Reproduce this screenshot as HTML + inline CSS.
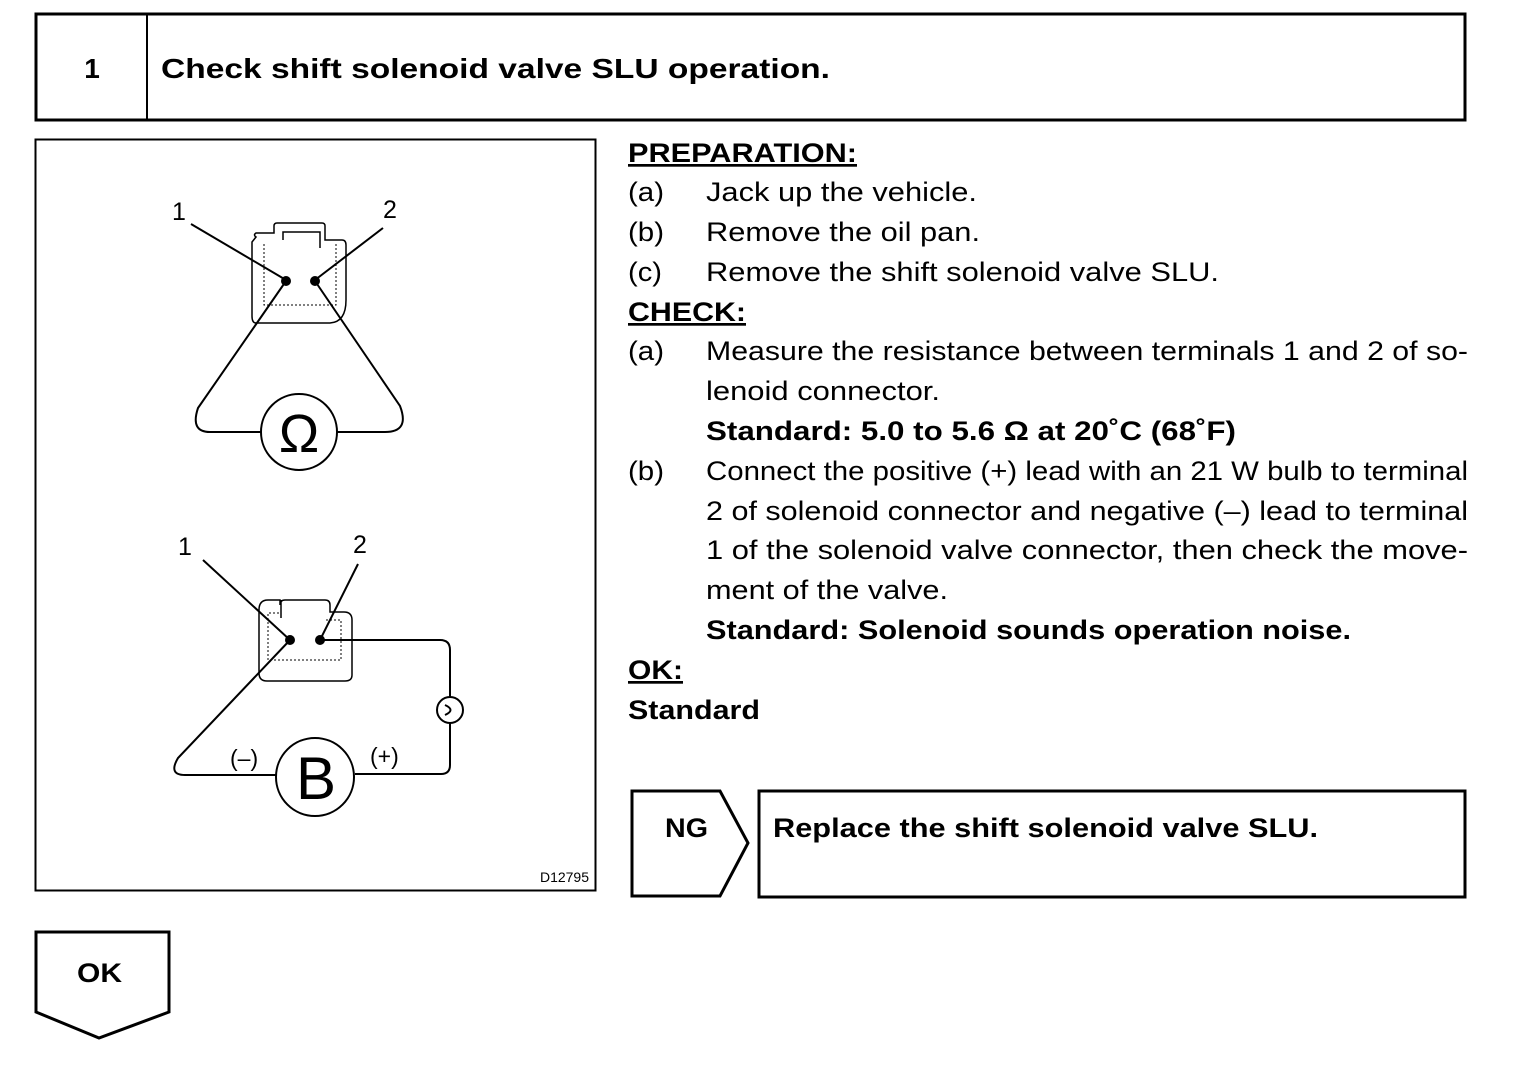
<!DOCTYPE html>
<html><head><meta charset="utf-8"><style>
html,body{margin:0;padding:0;background:#fff;}
svg{display:block;}
text{font-family:"Liberation Sans",Arial,sans-serif;fill:#000;}
.b{font-weight:bold;}
</style></head><body>
<svg width="1520" height="1068" viewBox="0 0 1520 1068" xmlns="http://www.w3.org/2000/svg">
<g fill="none" stroke="#000">
<rect x="36" y="14" width="1429" height="106" stroke-width="3"/>
<line x1="147" y1="14" x2="147" y2="120" stroke-width="2"/>
<rect x="35.5" y="139.5" width="560" height="751" stroke-width="2"/>
<path d="M632 791 H720 L748 843 L720 896 H632 Z" stroke-width="3"/>
<rect x="759" y="791" width="706" height="106" stroke-width="3"/>
<path d="M36 932 H169 V1012 L99 1038 L36 1012 Z" stroke-width="3"/>
</g>
<g lengthAdjust="spacingAndGlyphs">
<text x="92" y="78" font-size="28" class="b" text-anchor="middle">1</text>
<text x="161" y="78" font-size="28" class="b" textLength="669" lengthAdjust="spacingAndGlyphs">Check shift solenoid valve SLU operation.</text>
</g>
<g font-size="27">
<text x="628" y="162" class="b" text-decoration="underline" textLength="229" lengthAdjust="spacingAndGlyphs">PREPARATION:</text>
<text x="628" y="201" textLength="36" lengthAdjust="spacingAndGlyphs">(a)</text><text x="706" y="201" textLength="271" lengthAdjust="spacingAndGlyphs">Jack up the vehicle.</text>
<text x="628" y="241" textLength="36" lengthAdjust="spacingAndGlyphs">(b)</text><text x="706" y="241" textLength="274" lengthAdjust="spacingAndGlyphs">Remove the oil pan.</text>
<text x="628" y="281" textLength="34" lengthAdjust="spacingAndGlyphs">(c)</text><text x="706" y="281" textLength="513" lengthAdjust="spacingAndGlyphs">Remove the shift solenoid valve SLU.</text>
<text x="628" y="321" class="b" text-decoration="underline" textLength="118" lengthAdjust="spacingAndGlyphs">CHECK:</text>
<text x="628" y="360" textLength="36" lengthAdjust="spacingAndGlyphs">(a)</text><text x="706" y="360" textLength="762" lengthAdjust="spacingAndGlyphs">Measure the resistance between terminals 1 and 2 of so-</text>
<text x="706" y="400" textLength="234" lengthAdjust="spacingAndGlyphs">lenoid connector.</text>
<text x="706" y="440" class="b" textLength="530" lengthAdjust="spacingAndGlyphs">Standard: 5.0 to 5.6 Ω at 20˚C (68˚F)</text>
<text x="628" y="480" textLength="36" lengthAdjust="spacingAndGlyphs">(b)</text><text x="706" y="480" textLength="762" lengthAdjust="spacingAndGlyphs">Connect the positive (+) lead with an 21 W bulb to terminal</text>
<text x="706" y="520" textLength="762" lengthAdjust="spacingAndGlyphs">2 of solenoid connector and negative (–) lead to terminal</text>
<text x="706" y="559" textLength="762" lengthAdjust="spacingAndGlyphs">1 of the solenoid valve connector, then check the move-</text>
<text x="706" y="599" textLength="242" lengthAdjust="spacingAndGlyphs">ment of the valve.</text>
<text x="706" y="639" class="b" textLength="645" lengthAdjust="spacingAndGlyphs">Standard: Solenoid sounds operation noise.</text>
<text x="628" y="679" class="b" text-decoration="underline" textLength="55" lengthAdjust="spacingAndGlyphs">OK:</text>
<text x="628" y="719" class="b" textLength="132" lengthAdjust="spacingAndGlyphs">Standard</text>
<text x="665" y="837" class="b" textLength="43" lengthAdjust="spacingAndGlyphs">NG</text>
<text x="773" y="837" class="b" textLength="545" lengthAdjust="spacingAndGlyphs">Replace the shift solenoid valve SLU.</text>
<text x="77" y="982" class="b" textLength="45" lengthAdjust="spacingAndGlyphs">OK</text>
</g>

<!-- diagram 1 -->
<g fill="none" stroke="#000" stroke-width="2">
<path d="M256 237 Q253 235 256 233 H274 V226 Q274 223 277 223 H322 Q325 223 325 226 V240 H342 Q346 240 346 245 V300 Q346 322 330 323 H256 Q252 323 252 316 V242 Z" stroke-width="1.5"/>
<path d="M283 240 V232 H320 V248" stroke-width="1.5"/>
<path d="M264 244 V305 H336 V244" stroke-width="1" stroke-dasharray="2 2"/>
<line x1="191" y1="224" x2="286" y2="280"/>
<line x1="383" y1="228" x2="315" y2="280"/>
<path d="M286 281 L198 408 Q190 432 210 432 H261"/>
<path d="M315 281 L400 406 Q410 432 385 432 H337"/>
<circle cx="299" cy="432" r="38"/>
</g>
<circle cx="286" cy="281" r="5"/><circle cx="315" cy="281" r="5"/>
<text x="172" y="220" font-size="25">1</text>
<text x="383" y="218" font-size="25">2</text>
<text x="299" y="452" font-size="54" text-anchor="middle">Ω</text>

<!-- diagram 2 -->
<g fill="none" stroke="#000" stroke-width="2">
<path d="M268 600 H280 V605 Q280 600 285 600 H325 Q330 600 330 605 V612 H344 Q352 612 352 620 V675 Q352 681 345 681 H267 Q259 681 259 673 V610 Q259 600 268 600 Z" stroke-width="1.5"/>
<path d="M279 613 H268 V660 H341 V620 H325" stroke-width="1" stroke-dasharray="2 2"/>
<path d="M281 618 V600" stroke-width="1.5"/>
<line x1="203" y1="560" x2="290" y2="640"/>
<line x1="358" y1="564" x2="320" y2="640"/>
<path d="M320 640 H440 Q450 640 450 650 V697"/>
<path d="M450 723 V765 Q450 774 441 774 H355"/>
<path d="M290 640 L178 758 Q168 775 185 775 H277"/>
<circle cx="450" cy="710" r="13"/>
<path d="M445 705 Q456 710 445 715" stroke-width="2"/>
<circle cx="315" cy="777" r="39"/>
</g>
<circle cx="290" cy="640" r="5"/><circle cx="320" cy="640" r="5"/>
<text x="178" y="555" font-size="25">1</text>
<text x="353" y="553" font-size="25">2</text>
<text x="230" y="766" font-size="23">(–)</text>
<text x="370" y="764" font-size="23">(+)</text>
<text x="316" y="799" font-size="60" text-anchor="middle">B</text>
<text x="589" y="882" font-size="14" text-anchor="end">D12795</text>
</svg>
</body></html>
